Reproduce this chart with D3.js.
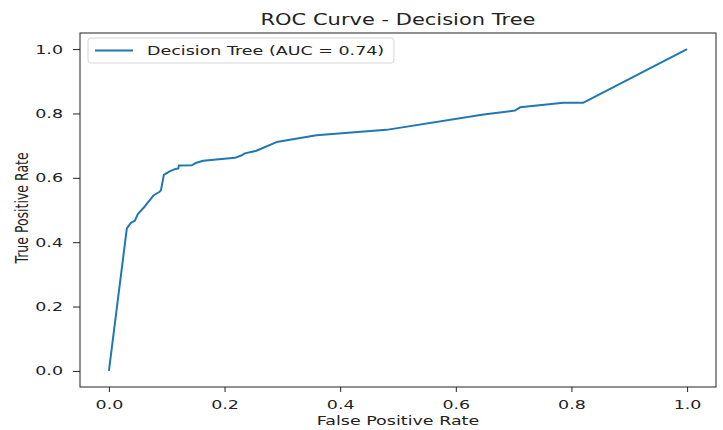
<!DOCTYPE html>
<html>
<head>
<meta charset="utf-8">
<script src="https://cdn.jsdelivr.net/npm/d3@7"></script>
<style>
  body { margin: 0; background: #fff; }
  text { font-family: "DejaVu Sans", sans-serif; fill: #222; }
</style>
</head>
<body>
<div id="chart"></div>
<script>
// ROC points
const fpr = [0, 0.031, 0.038, 0.045, 0.050, 0.062, 0.077, 0.087, 0.090, 0.095, 0.105, 0.114, 0.120, 0.121,
  0.143, 0.150, 0.163, 0.218, 0.230, 0.235, 0.255, 0.290, 0.313, 0.359, 0.480, 0.648, 0.702, 0.711,
  0.786, 0.820, 1.0];
const tpr = [0, 0.443, 0.460, 0.467, 0.487, 0.511, 0.545, 0.556, 0.561, 0.609, 0.620, 0.627, 0.629, 0.638,
  0.639, 0.646, 0.653, 0.662, 0.670, 0.676, 0.684, 0.711, 0.718, 0.732, 0.749, 0.797, 0.809, 0.819,
  0.833, 0.833, 1.0];
const xTicks = [0, 0.2, 0.4, 0.6, 0.8, 1.0];
const yTicks = [0, 0.2, 0.4, 0.6, 0.8, 1.0];
const seriesLabel = "Decision Tree (AUC = 0.74)";

const W = 723, H = 430;
const margin = { top: 33, right: 7, bottom: 43, left: 80 };
const sx = 1.4; // the picture is stretched sideways, so text is too
const lineColor = "#1f77b4";

const svg = d3.select("#chart").append("svg")
  .attr("width", W)
  .attr("height", H);

const x = d3.scaleLinear()
  .domain([-0.05, 1.05])
  .range([margin.left, W - margin.right]);

const y = d3.scaleLinear()
  .domain([-0.05, 1.05])
  .range([H - margin.bottom, margin.top]);

// x axis
const gx = svg.append("g")
  .attr("transform", `translate(0,${H - margin.bottom})`)
  .call(d3.axisBottom(x).tickValues(xTicks).tickFormat(d3.format(".1f")).tickSize(5).tickSizeOuter(0));
gx.select(".domain").remove();
gx.selectAll("line").attr("stroke", "#222");
gx.selectAll("text")
  .attr("y", 22).attr("dy", 0)
  .attr("transform", `scale(${sx},1)`)
  .style("font-size", "12.5px")
  .attr("fill", "#222");

// y axis
const gy = svg.append("g")
  .attr("transform", `translate(${margin.left},0)`)
  .call(d3.axisLeft(y).tickValues(yTicks).tickFormat(d3.format(".1f")).tickSize(7).tickSizeOuter(0));
gy.select(".domain").remove();
gy.selectAll("line").attr("stroke", "#222");
gy.selectAll("text")
  .attr("x", -17 / sx)
  .attr("transform", `scale(${sx},1)`)
  .style("font-size", "12.5px")
  .attr("fill", "#222");

// frame
svg.append("rect")
  .attr("x", margin.left)
  .attr("y", margin.top)
  .attr("width", W - margin.left - margin.right)
  .attr("height", H - margin.top - margin.bottom)
  .attr("fill", "none")
  .attr("stroke", "#222")
  .attr("stroke-width", 1);

// curve
const line = d3.line()
  .x(i => x(fpr[i]))
  .y(i => y(tpr[i]));

svg.append("path")
  .datum(d3.range(fpr.length))
  .attr("fill", "none")
  .attr("stroke", lineColor)
  .attr("stroke-width", 2)
  .attr("stroke-linejoin", "round")
  .attr("d", line);

// title and axis titles
svg.append("text")
  .attr("transform", `translate(${(margin.left + W - margin.right) / 2},25) scale(${sx},1)`)
  .attr("text-anchor", "middle")
  .style("font-size", "15px")
  .text("ROC Curve - Decision Tree");

svg.append("text")
  .attr("transform", `translate(${(margin.left + W - margin.right) / 2},425) scale(${sx},1)`)
  .attr("text-anchor", "middle")
  .style("font-size", "12.5px")
  .text("False Positive Rate");

svg.append("text")
  .attr("transform", `translate(28,208) scale(${sx},1) rotate(-90)`)
  .attr("text-anchor", "middle")
  .style("font-size", "12.5px")
  .text("True Positive Rate");

// legend
const legend = svg.append("g");
legend.append("rect")
  .attr("x", 88).attr("y", 38)
  .attr("width", 306).attr("height", 25)
  .attr("rx", 3)
  .attr("fill", "#fff").attr("fill-opacity", 0.8)
  .attr("stroke", "#d5d5d5");
legend.append("line")
  .attr("x1", 95).attr("x2", 133)
  .attr("y1", 50.5).attr("y2", 50.5)
  .attr("stroke", lineColor)
  .attr("stroke-width", 2);
legend.append("text")
  .attr("transform", `translate(147,55) scale(${sx},1)`)
  .style("font-size", "12.5px")
  .text(seriesLabel);
</script>
</body>
</html>
